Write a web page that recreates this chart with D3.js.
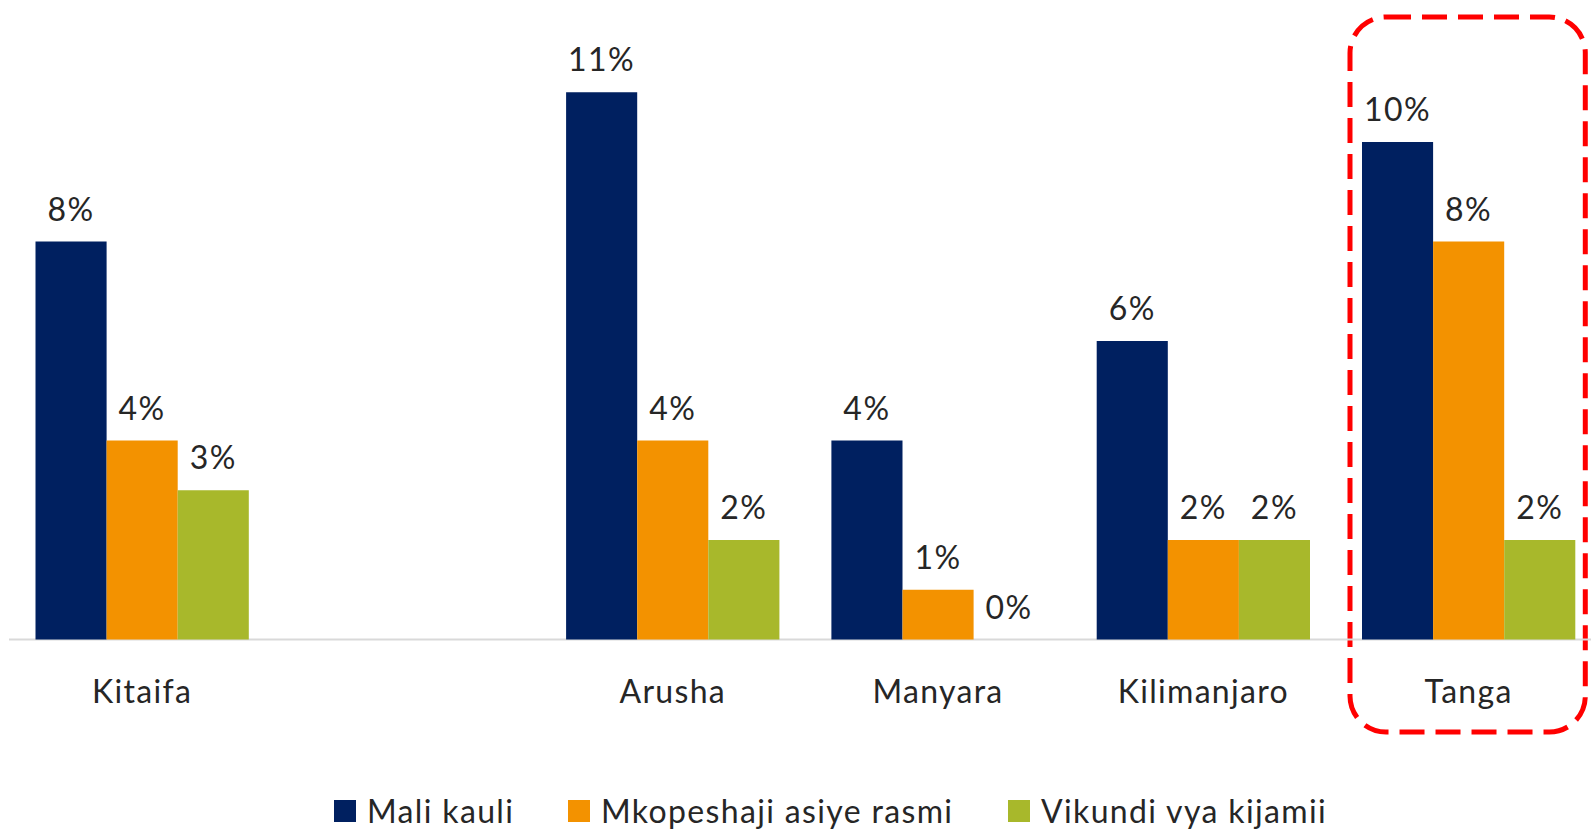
<!DOCTYPE html>
<html>
<head>
<meta charset="utf-8">
<script src="https://cdn.jsdelivr.net/npm/d3@7"></script>
<style>
  html, body { margin: 0; padding: 0; background: #fff; }
  svg { display: block; }
  text { font-family: Lato, "Open Sans", sans-serif; fill: #262626; }
</style>
</head>
<body>
<svg id="chart" width="1591" height="831"></svg>
<script>
// ---- Data ----
const categories = ["Kitaifa", "", "Arusha", "Manyara", "Kilimanjaro", "Tanga"];
const seriesNames = ["Mali kauli", "Mkopeshaji asiye rasmi", "Vikundi vya kijamii"];
const maliKauli = [8, null, 11, 4, 6, 10];
const mkopeshaji = [4, null, 4, 1, 2, 8];
const vikundi = [3, null, 2, 0, 2, 2];
const seriesColors = ["#002060", "#F39200", "#A8B82B"];
const highlighted = "Tanga";

const seriesValues = [maliKauli, mkopeshaji, vikundi];

// ---- Layout ----
const svg = d3.select("#chart");
const baseline = 639.5;
const pxPerPct = 49.75;

const x0 = d3.scaleBand()
  .domain(categories.map((c, i) => i))
  .range([9.5, 1601.3])
  .paddingInner(0.196)
  .paddingOuter(0.098);

const x1 = d3.scaleBand()
  .domain(seriesNames)
  .range([0, x0.bandwidth()])
  .padding(0);

const y = d3.scaleLinear()
  .domain([0, 12])
  .range([baseline, baseline - 12 * pxPerPct]);

// Highlight box (behind everything)
const hi = categories.indexOf(highlighted);
svg.append("rect")
  .attr("x", x0(hi) - 12)
  .attr("y", 17)
  .attr("width", x0.bandwidth() + 22)
  .attr("height", 715)
  .attr("rx", 36).attr("ry", 36)
  .attr("fill", "none")
  .attr("stroke", "#FF0000")
  .attr("stroke-width", 5)
  .attr("stroke-dasharray", "25 11");

// Axis baseline
svg.append("line")
  .attr("x1", 9).attr("x2", 1591)
  .attr("y1", baseline).attr("y2", baseline)
  .attr("stroke", "#D9D9D9")
  .attr("stroke-width", 2);

// Bars
const flat = [];
categories.forEach((c, i) => {
  seriesNames.forEach((s, j) => {
    const v = seriesValues[j][i];
    if (v !== null) flat.push({ ci: i, s, j, v });
  });
});

svg.append("g").selectAll("rect")
  .data(flat)
  .join("rect")
  .attr("x", d => x0(d.ci) + x1(d.s))
  .attr("y", d => y(d.v))
  .attr("width", x1.bandwidth())
  .attr("height", d => y(0) - y(d.v))
  .attr("fill", d => seriesColors[d.j]);

// Value labels
svg.append("g").selectAll("text")
  .data(flat)
  .join("text")
  .attr("x", d => x0(d.ci) + x1(d.s) + x1.bandwidth() / 2)
  .attr("y", d => y(d.v) - 21)
  .attr("text-anchor", "middle")
  .attr("font-size", 32)
  .attr("letter-spacing", 1.5)
  .text(d => d.v + "%");

// Category labels
svg.append("g").selectAll("text")
  .data(categories.map((c, i) => ({ c, i })).filter(d => d.c !== ""))
  .join("text")
  .attr("x", d => x0(d.i) + x0.bandwidth() / 2)
  .attr("y", 703)
  .attr("text-anchor", "middle")
  .attr("font-size", 32)
  .attr("letter-spacing", 1.3)
  .text(d => d.c);

// Legend
const legendX = [334, 568, 1008];
const lg = svg.append("g");
seriesNames.forEach((s, j) => {
  lg.append("rect")
    .attr("x", legendX[j]).attr("y", 800)
    .attr("width", 22).attr("height", 22)
    .attr("fill", seriesColors[j]);
  lg.append("text")
    .attr("x", legendX[j] + 33).attr("y", 823)
    .attr("font-size", 32)
    .attr("letter-spacing", 1.35)
    .text(s);
});
</script>
</body>
</html>
